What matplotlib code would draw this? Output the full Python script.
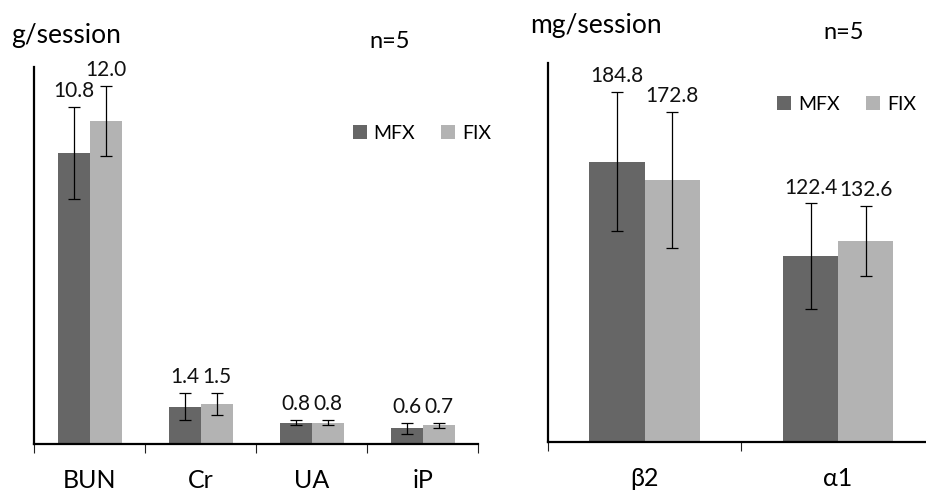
import matplotlib
matplotlib.use("Agg")
import matplotlib.pyplot as plt
import numpy as np

plt.rcParams['font.family'] = ['Lato', 'Open Sans', 'DejaVu Sans']

# ---- data ----
categories_left = ['BUN', 'Cr', 'UA', 'iP']
mfx_left = [10.8, 1.4, 0.8, 0.6]
fix_left = [12.0, 1.5, 0.8, 0.7]
mfx_left_sd = [1.7, 0.5, 0.1, 0.2]
fix_left_sd = [1.3, 0.4, 0.1, 0.1]

categories_right = ['β2', 'α1']
mfx_right = [184.8, 122.4]
fix_right = [172.8, 132.6]
mfx_right_sd = [46.0, 35.0]
fix_right_sd = [45.0, 23.0]

series_names = ['MFX', 'FIX']
colors = ['#666666', '#b3b3b3']

W, H = 926, 492
fig = plt.figure(figsize=(W / 100, H / 100), dpi=100)

ax1 = fig.add_axes([34 / W, 1 - 444.3 / H, (478.3 - 34) / W, (444.3 - 66.7) / H])
ax2 = fig.add_axes([547.7 / W, 1 - 441.7 / H, (926 - 547.7) / W, (441.7 - 63) / H])


def draw(ax, cats, mfx, fix, mfx_sd, fix_sd, ymax, xmax, width):
    x = np.arange(len(cats))
    err_kw = dict(ecolor='black', elinewidth=0.9, capsize=4.5, capthick=0.9)
    b1 = ax.bar(x - width / 2, mfx, width, color=colors[0], yerr=mfx_sd,
                error_kw=err_kw, label=series_names[0], zorder=2)
    b2 = ax.bar(x + width / 2, fix, width, color=colors[1], yerr=fix_sd,
                error_kw=err_kw, label=series_names[1], zorder=2)
    for xs, vals, sds in ((x - width / 2, mfx, mfx_sd), (x + width / 2, fix, fix_sd)):
        for xi, v, s in zip(xs, vals, sds):
            ax.annotate(f'{v:.1f}', (xi, v + s), xytext=(0, 7), textcoords='offset points',
                        ha='center', va='baseline', fontsize=15, color='#111111')
    ax.set_xlim(-0.5, xmax)
    ax.set_ylim(0, ymax)
    ax.set_xticks(x)
    ax.set_xticklabels(cats, fontsize=18)
    ax.tick_params(axis='x', which='major', length=0, pad=18, colors='black')
    ax.set_xticks(np.arange(-0.5, xmax + 0.01, 1.0), minor=True)
    ax.tick_params(axis='x', which='minor', length=6.5, width=0.8, color='#222222')
    ax.set_yticks([])
    for s in ('top', 'right'):
        ax.spines[s].set_visible(False)
    for s in ('left', 'bottom'):
        ax.spines[s].set_linewidth(1.6)
        ax.spines[s].set_color('black')
    ax.patch.set_alpha(0)
    return b1, b2


h1 = draw(ax1, categories_left, mfx_left, fix_left, mfx_left_sd, fix_left_sd, 14, 3.5, 0.288)
h2 = draw(ax2, categories_right, mfx_right, fix_right, mfx_right_sd, fix_right_sd, 250,
          -0.5 + (926 - 547.7) / 193.6, 0.285)

leg_kw = dict(ncol=2, frameon=False, fontsize=14, handlelength=0.72, handleheight=0.72,
              handletextpad=0.35, columnspacing=1.35, borderpad=0, borderaxespad=0,
              loc='center left')
fig.legend(handles=list(h1), labels=series_names, bbox_to_anchor=(352.7 / W, 1 - 133.3 / H), **leg_kw)
fig.legend(handles=list(h2), labels=series_names, bbox_to_anchor=(777.3 / W, 1 - 104.7 / H), **leg_kw)

fig.text(11 / W, 1 - 43 / H, 'g/session', fontsize=19, ha='left', va='baseline')
fig.text(390 / W, 1 - 48.3 / H, 'n=5', fontsize=17, ha='center', va='baseline')
fig.text(530 / W, 1 - 33.3 / H, 'mg/session', fontsize=19, ha='left', va='baseline')
fig.text(844 / W, 1 - 39.3 / H, 'n=5', fontsize=17, ha='center', va='baseline')

fig.savefig('out.png', dpi=100)
